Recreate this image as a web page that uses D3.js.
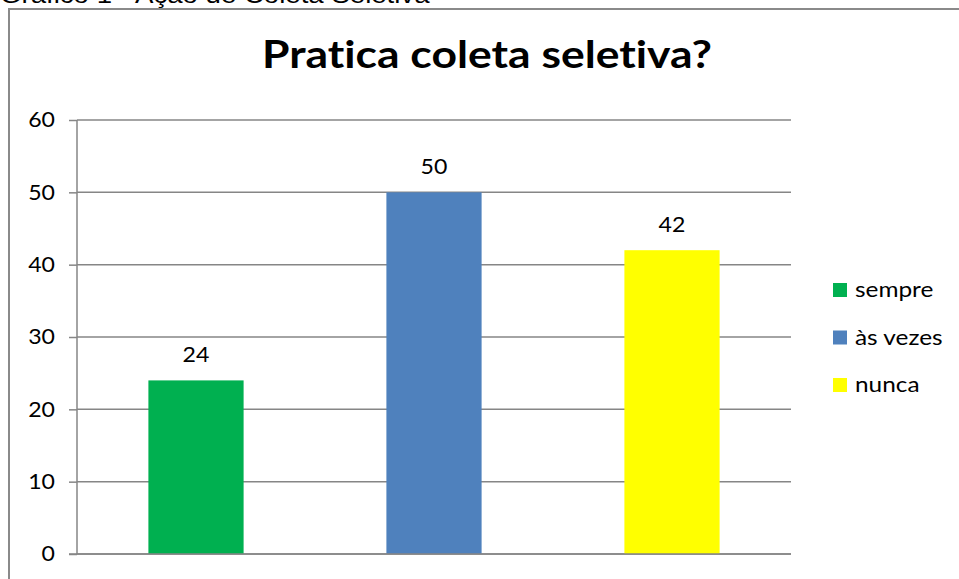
<!DOCTYPE html>
<html>
<head>
<meta charset="utf-8">
<script src="https://cdn.jsdelivr.net/npm/d3@7"></script>
<style>
  html, body { margin: 0; padding: 0; background: #fff; }
  svg { display: block; }
  text { font-variant-ligatures: none; font-feature-settings: "liga" 0, "clig" 0; }
</style>
</head>
<body>
<svg id="chart" width="959" height="579"></svg>
<script>
const categories = ["sempre", "às vezes", "nunca"];
const values = [24, 50, 42];
const colors = ["#00B050", "#4F81BD", "#FFFF00"];
const yTicks = [0, 10, 20, 30, 40, 50, 60];
const title = "Pratica coleta seletiva?";
const caption = "Gráfico 1 - Ação de Coleta Seletiva";

const svg = d3.select("#chart");
const font = "Lato, 'Open Sans', sans-serif";

// horizontal stretch helper (reference text is slightly wide)
function stretch(sel, k) {
  sel.each(function () {
    const len = this.getComputedTextLength();
    d3.select(this).attr("textLength", len * k).attr("lengthAdjust", "spacingAndGlyphs");
  });
}

// caption (clipped at the top of the page, as in the reference)
svg.append("text").attr("x", 0).attr("y", 3)
  .attr("font-family", "'Liberation Sans', Arial, sans-serif").attr("font-size", 24)
  .attr("fill", "#000").text(caption)
  .call(stretch, 1.15);

// outer frame
svg.append("path").attr("d", "M9,600 V9 H980")
  .attr("fill", "none").attr("stroke", "#8a8a8a").attr("stroke-width", 2);

const plot = { left: 77, right: 791, top: 120, bottom: 554 };

const x = d3.scaleBand().domain(categories).range([plot.left, plot.right]).paddingInner(0.6).paddingOuter(0.3);
const y = d3.scaleLinear().domain([0, 60]).range([plot.bottom, plot.top]);

// y axis ticks and labels
const yAxis = d3.axisLeft(y).tickValues(yTicks).tickSize(8).tickPadding(14);
const gy = svg.append("g").attr("transform", `translate(${plot.left},0)`).call(yAxis);
gy.select(".domain").remove();
gy.selectAll(".tick line").attr("stroke", "#868686").attr("stroke-width", 1.5);
gy.selectAll(".tick text").attr("font-family", font).attr("font-size", 21).attr("fill", "#000")
  .call(stretch, 1.1);

// gridlines
svg.append("g").selectAll("line").data(yTicks).join("line")
  .attr("x1", plot.left).attr("x2", plot.right)
  .attr("y1", d => y(d)).attr("y2", d => y(d))
  .attr("stroke", "#868686").attr("stroke-width", 1.5);

svg.append("line").attr("x1", plot.left).attr("x2", plot.left)
  .attr("y1", plot.top).attr("y2", plot.bottom)
  .attr("stroke", "#868686").attr("stroke-width", 1.5);

// bars
svg.append("g").selectAll("rect").data(categories).join("rect")
  .attr("x", d => x(d)).attr("width", x.bandwidth())
  .attr("y", (d, i) => y(values[i])).attr("height", (d, i) => y(0) - y(values[i]))
  .attr("fill", (d, i) => colors[i]);

// baseline on top
svg.append("line").attr("x1", plot.left - 8).attr("x2", plot.right)
  .attr("y1", y(0)).attr("y2", y(0))
  .attr("stroke", "#868686").attr("stroke-width", 1.5);

// value labels
svg.append("g").selectAll("text").data(categories).join("text")
  .attr("x", d => x(d) + x.bandwidth() / 2)
  .attr("y", (d, i) => y(values[i]) - 18)
  .attr("text-anchor", "middle")
  .attr("font-family", font).attr("font-size", 21).attr("fill", "#000")
  .text((d, i) => values[i])
  .call(stretch, 1.1);

// title
svg.append("text").attr("x", 487).attr("y", 68).attr("text-anchor", "middle")
  .attr("font-family", font).attr("font-weight", "bold").attr("font-size", 38)
  .attr("fill", "#000").text(title)
  .call(stretch, 1.17);

// legend
const leg = svg.append("g").selectAll("g").data(categories).join("g")
  .attr("transform", (d, i) => `translate(833, ${290 + i * 47.5})`);
leg.append("rect").attr("x", 0).attr("y", -7).attr("width", 14).attr("height", 14)
  .attr("fill", (d, i) => colors[i]);
leg.append("text").attr("x", 22).attr("y", 7)
  .attr("font-family", font).attr("font-size", 21).attr("fill", "#000")
  .text(d => d)
  .call(stretch, 1.16);
</script>
</body>
</html>
